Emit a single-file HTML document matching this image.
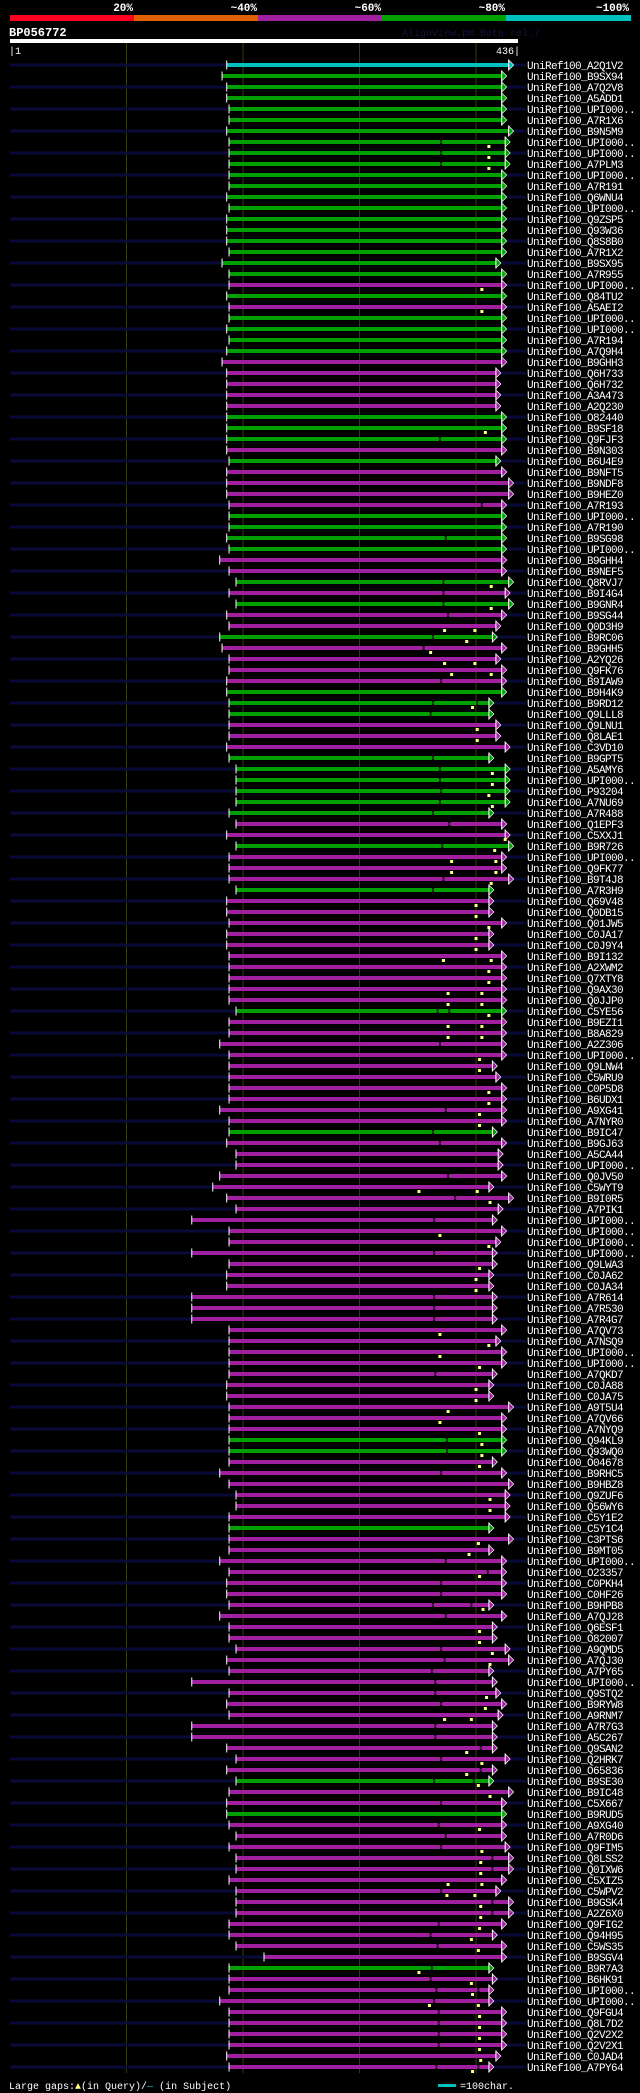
<!DOCTYPE html>
<html><head><meta charset="utf-8"><style>
html,body{margin:0;padding:0;background:#000;}
svg{display:block;}
text{font-family:"Liberation Mono","DejaVu Sans Mono",monospace;}
</style></head><body>
<svg id="chart" width="640" height="2093" viewBox="0 0 640 2093" xmlns="http://www.w3.org/2000/svg">
<rect x="0" y="0" width="640" height="2093" fill="#000"/>
<g>
<rect x="10" y="15" width="124" height="6" fill="#ff0020"/>
<rect x="134" y="15" width="124" height="6" fill="#e06000"/>
<rect x="258" y="15" width="124" height="6" fill="#a020a0"/>
<rect x="382" y="15" width="124" height="6" fill="#00a000"/>
<rect x="506" y="15" width="125" height="6" fill="#00c0c0"/>
<g font-size="11" font-weight="bold" fill="#fff" text-anchor="end">
<text x="133" y="11">20%</text>
<text x="257" y="11">~40%</text>
<text x="381" y="11">~60%</text>
<text x="505" y="11">~80%</text>
<text x="629" y="11">~100%</text>
</g></g>
<text x="9" y="36" font-size="12" font-weight="bold" fill="#fff">BP056772</text>
<text x="402" y="36" font-size="10" fill="#141440">AlignView.pm Beta rel.7</text>
<rect x="10" y="39" width="508" height="4" fill="#fff"/>
<text x="9" y="54" font-size="10" fill="#fff">|1</text>
<text x="520" y="54" font-size="10" fill="#fff" text-anchor="end">436|</text>
<g id="grid"></g>
<g id="rows"></g>
<text x="9" y="2089" font-size="10" fill="#fff">Large gaps:<tspan fill="#ffff80">▲</tspan>(in Query)/<tspan fill="#00c0c0">—</tspan> (in Subject)</text>
<rect x="438" y="2084" width="18" height="3" fill="#00c0c0"/>
<text x="460" y="2089" font-size="10" fill="#fff">=100char.</text>
</svg>
<script>
const queryLength = 436;
const gridTicks = [100, 200, 300, 400];
const names = ["A2Q1V2","B9SX94","A7Q2V8","A5ADD1","UPI000..","A7R1X6","B9N5M9","UPI000..","UPI000..","A7PLM3",
"UPI000..","A7R191","Q6WNU4","UPI000..","Q9ZSP5","Q93W36","Q8S8B0","A7R1X2","B9SX95","A7R955",
"UPI000..","Q84TU2","A5AEI2","UPI000..","UPI000..","A7R194","A7Q9H4","B9GHH3","Q6H733","Q6H732",
"A3A473","A2Q230","O82440","B9SF18","Q9FJF3","B9N303","B6U4E9","B9NFT5","B9NDF8","B9HEZ0",
"A7R193","UPI000..","A7R190","B9SG98","UPI000..","B9GHH4","B9NEF5","Q8RVJ7","B9I4G4","B9GNR4",
"B9SG44","Q0D3H9","B9RC06","B9GHH5","A2YQ26","Q9FK76","B9IAW9","B9H4K9","B9RD12","Q9LLL8",
"Q9LNU1","Q8LAE1","C3VD10","B9GPT5","A5AMY6","UPI000..","P93204","A7NU69","A7R488","Q1EPF3",
"C5XXJ1","B9R726","UPI000..","Q9FK77","B9T4J8","A7R3H9","Q69V48","Q0DB15","Q01JW5","C0JA17",
"C0J9Y4","B9I132","A2XWM2","Q7XTY8","Q9AX30","Q0JJP0","C5YE56","B9EZI1","B8A829","A2Z306",
"UPI000..","Q9LNW4","C5WRU9","C0P5D8","B6UDX1","A9XG41","A7NYR0","B9IC47","B9GJ63","A5CA44",
"UPI000..","Q0JV50","C5WYT9","B9I0R5","A7PIK1","UPI000..","UPI000..","UPI000..","UPI000..","Q9LWA3",
"C0JA62","C0JA34","A7R614","A7R530","A7R4G7","A7QV73","A7NSQ9","UPI000..","UPI000..","A7QKD7",
"C0JA88","C0JA75","A9T5U4","A7QV66","A7NYQ9","Q94KL9","Q93WQ0","O04678","B9RHC5","B9HBZ8",
"Q9ZUF6","Q56WY6","C5Y1E2","C5Y1C4","C3PTS6","B9MT05","UPI000..","O23357","C0PKH4","C0HF26",
"B9HPB8","A7QJ28","Q6ESF1","O82007","A9QMD5","A7QJ30","A7PY65","UPI000..","Q9STQ2","B9RYW8",
"A9RNM7","A7R7G3","A5C267","Q9SAN2","Q2HRK7","O65836","B9SE30","B9IC48","C5X667","B9RUD5",
"A9XG40","A7R0D6","Q9FIM5","Q8LSS2","Q0IXW6","C5XIZ5","C5WPV2","B9GSK4","A2Z6X0","Q9FIG2",
"Q94H95","C5WS35","B9SGV4","B9R7A3","B6HK91","UPI000..","UPI000..","Q9FGU4","Q8L7D2","Q2V2X2",
"Q2V2X1","C0JAD4","A7PY64"];
const kinds = ("cggggggggg"+"gggggggggg"+"mgmggggmmm"+"mmgggmgmmm"+"mggggmmgmg"+
"mmgmmmmggg"+"mmmggggggm"+"mgmmmgmmmm"+"mmmmmmgmmm"+"mmmmmmmgmm"+
"mmmmmmmmmm"+"mmmmmmmmmm"+"mmmmmggmmm"+"mmmgmmmmmm"+"mmmmmmmmmm"+
"mmmmmmgmmg"+"mmmmmmmmmm"+"mmmgmmmmmm"+"mmm").split("");
const starts = [186,182,186,186,188,188,186,188,188,188, 188,188,186,188,186,186,186,188,182,188,
188,186,188,188,186,188,186,182,186,186, 186,186,186,186,186,186,188,186,186,186,
188,188,188,186,188,180,188,194,188,194, 186,188,180,182,188,188,186,186,188,188,
188,188,186,188,194,194,194,194,188,194, 186,194,188,188,188,194,186,186,188,186,
186,188,188,188,188,188,194,188,188,180, 188,188,188,188,188,180,188,188,186,194,
194,180,174,186,194,156,188,188,156,188, 186,186,156,156,156,188,188,188,188,188,
186,186,188,188,188,188,188,188,180,188, 194,194,188,188,188,188,180,188,186,186,
188,180,188,188,194,186,188,156,188,186, 188,156,156,186,194,186,194,188,186,186,
188,194,188,194,194,188,194,194,194,188, 188,194,218,188,188,188,180,188,188,188,
188,186,188];
const ends = [428,422,422,422,422,422,428,425,425,425, 422,422,422,422,422,422,422,422,417,422,
422,422,422,422,422,422,422,422,417,417, 417,417,422,422,422,422,417,422,428,428,
422,422,422,422,422,422,422,428,425,428, 422,417,414,422,417,422,422,422,411,411,
417,417,425,411,425,425,425,425,411,422, 425,428,422,422,428,411,411,411,422,411,
411,422,422,422,422,422,422,422,422,422, 422,414,417,422,422,422,422,414,422,419,
419,422,411,428,419,414,422,417,414,414, 411,411,414,414,414,422,417,422,422,414,
411,411,428,422,422,422,422,414,422,428, 425,425,425,411,428,411,422,422,422,422,
411,422,414,414,425,428,411,414,417,422, 419,414,414,414,425,414,411,428,422,422,
422,422,425,428,428,422,417,428,428,422, 414,422,422,411,414,411,411,422,422,422,
422,417,411];
const gaps = {8:[370],9:[370],10:[370],35:[369],41:[405],44:[374],48:[372],49:[372],50:[372],51:[376],
53:[363],54:[355],57:[370],59:[363,401],60:[361],64:[363],65:[369],66:[369],67:[370],68:[369],69:[363],
70:[377],72:[371],75:[372],76:[363],87:[367,377],90:[369],96:[374],98:[363],99:[369],102:[376],104:[382],
106:[364],109:[364],113:[364],114:[364],115:[364],120:[365],126:[375],127:[375],129:[370],137:[374],138:[410],
139:[370],140:[370],141:[363,396],142:[374],145:[370],146:[373],147:[362],148:[365],149:[365],150:[370],
152:[365],153:[365],154:[404],155:[370],156:[404],157:[364,398],159:[370],161:[368],162:[374],163:[370],
164:[414],165:[414],167:[370],168:[414],169:[414],170:[368],171:[361],172:[367],174:[362],175:[361],
176:[366,402],177:[364],178:[368],179:[368],180:[368],181:[368],183:[366,402]};
const marks = {8:[411],9:[411],10:[411],21:[405],23:[405],34:[408],48:[413],50:[413],52:[373,399],53:[392],
54:[361],55:[373,399],56:[379,413],59:[397],61:[401],62:[401],65:[414],66:[414],67:[411],68:[414],71:[425],
72:[416],73:[379,417],74:[379,417],75:[413],77:[400],78:[400],79:[411],80:[400],81:[400],82:[372,413],
83:[411],84:[411],85:[376,405],86:[376,405],87:[411],88:[376,405],89:[376,405],91:[403],92:[403],94:[411],
95:[411],96:[403],97:[403],103:[351,401],104:[412],107:[369],108:[411],110:[403],111:[400],112:[400],
116:[369],117:[411],118:[369],119:[403],121:[400],122:[400],123:[376],124:[369],125:[403],126:[405],
127:[405],128:[403],131:[412],132:[412],135:[402],136:[394],138:[403],141:[406],143:[403],144:[403],
145:[414],146:[412],149:[409],150:[408],151:[373,396],154:[392],155:[405],156:[392],157:[402],158:[412],
161:[403],163:[405],164:[404],165:[404],166:[376,405],167:[375,399],168:[404],169:[404],170:[403],
171:[396],172:[402],174:[351],175:[396],176:[397],177:[360,402],178:[403],179:[403],180:[403],181:[403],
182:[404],183:[397]};

const colorOf = {c:"#00c0c0", g:"#00a000", m:"#a020a0"};
const NS = "http://www.w3.org/2000/svg";
function xScale(r){ return 10 + r * 508 / queryLength; }
function yRow(i){ return 65 + i * 11; }
function mk(tag, attrs, parent){
  const el = document.createElementNS(NS, tag);
  for (const k in attrs) el.setAttribute(k, attrs[k]);
  parent.appendChild(el);
  return el;
}
const grid = document.getElementById('grid');
gridTicks.forEach(t => {
  const l = mk('line', {x1:xScale(t), x2:xScale(t), y1:43, y2:2073, stroke:'#3a3a10', 'stroke-width':1}, grid);
  
  
});
const rowsG = document.getElementById('rows');
names.forEach((nm, i) => {
  const y = yRow(i);
  const n = i + 1;
  const col = colorOf[kinds[i]] || "#a020a0";
  const g = mk('g', {}, rowsG);
  
  
  if (i % 2 === 0) {
    const bg = mk('rect', {x:10, y:y-1.5, width:516, height:3, fill:'#0a0a38'}, g);
    
    
  }
  const x0 = xScale(starts[i]), x1 = xScale(ends[i]);
  const bar = mk('rect', {x:x0, y:y-2, width:x1-x0, height:4, fill:col}, g);
  
  
  (gaps[n] || []).forEach(gp => {
    const gx = xScale(gp);
    const gr = mk('rect', {x:gx-1, y:y-2, width:2, height:4, fill:'#000'}, g);
    
    
    mk('rect', {x:gx-1, y:y-0.5, width:2, height:1, fill:col}, g);
  });
  const tick = mk('line', {x1:x0, x2:x0, y1:y-4.5, y2:y+4.5, stroke:'#fff', 'stroke-width':1}, g);
  
  
  const tri = mk('polygon', {points:`${x1},${y-5} ${x1+5},${y} ${x1},${y+5}`, fill:col, stroke:'#fff', 'stroke-width':0.7}, g);
  
  
  mk('line', {x1:x1, x2:x1, y1:y-5.5, y2:y+5.5, stroke:'#fff', 'stroke-width':1}, g);
  (marks[n] || []).forEach(mv => {
    const mx = xScale(mv);
    const m = mk('rect', {x:mx-1.5, y:y+3, width:3, height:3, fill:'#ffff80'}, g);
    
    
  });
  const t = mk('text', {x:527, y:y+4, 'font-size':11, 'letter-spacing':'-0.6', fill:'#fff'}, g);
  t.textContent = 'UniRef100_' + nm;
  
  
});
</script>
</body></html>
